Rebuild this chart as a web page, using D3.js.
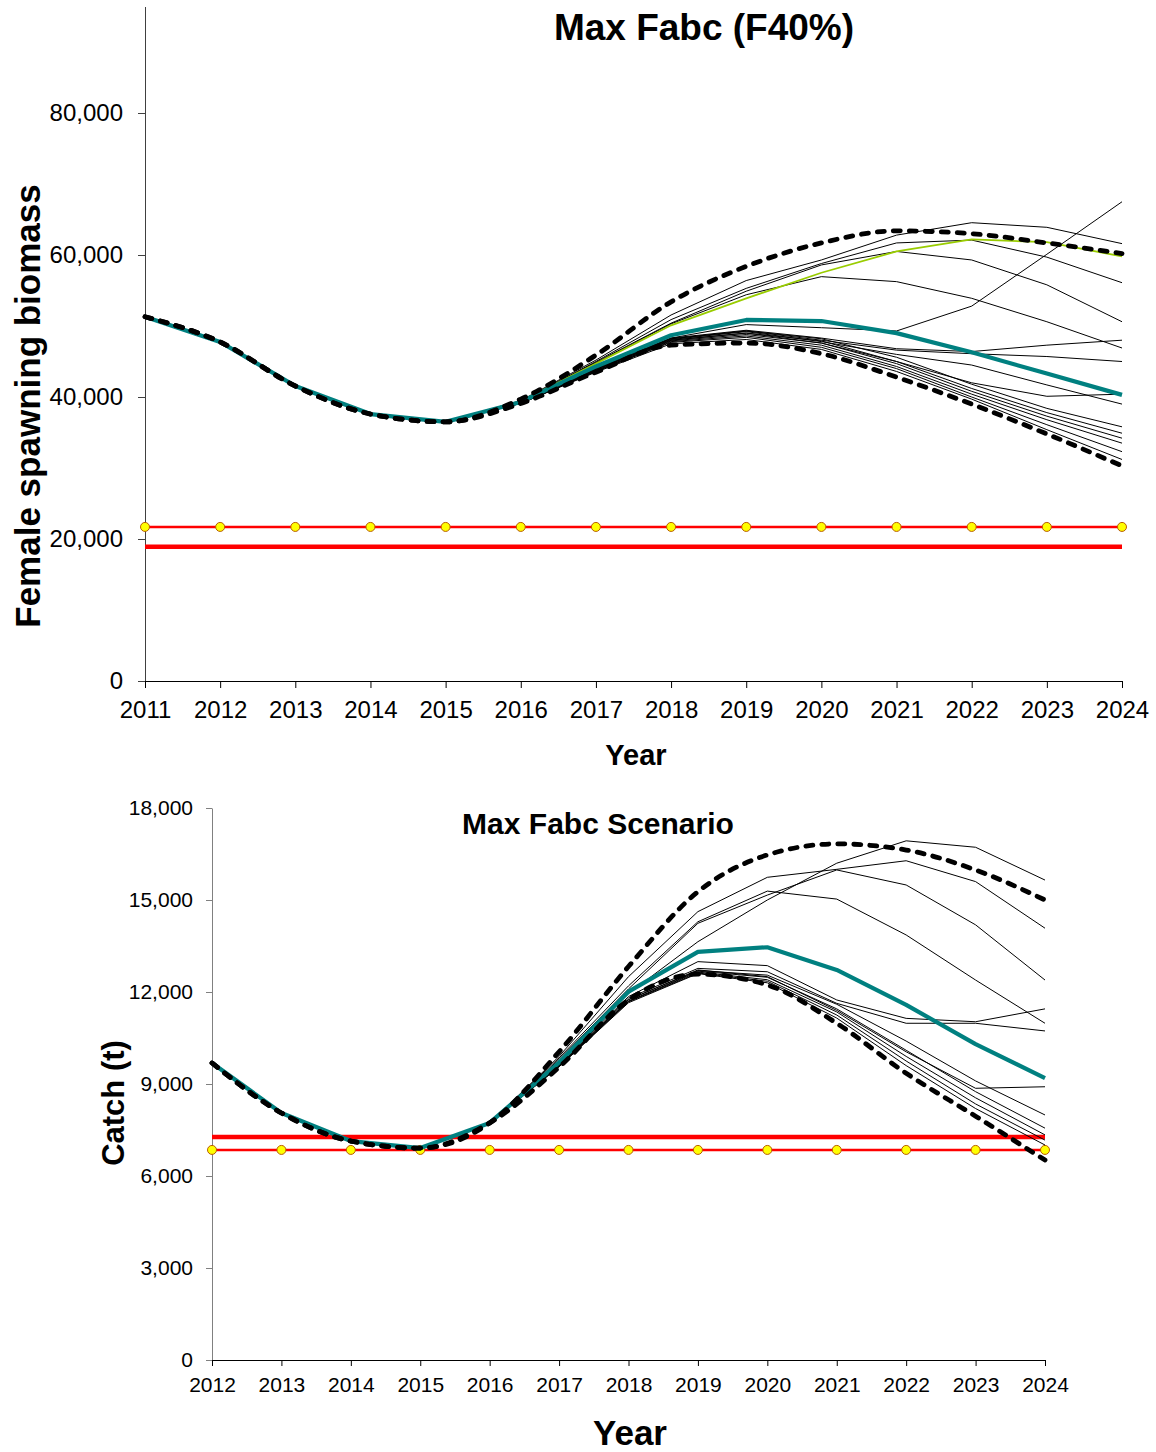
<!DOCTYPE html>
<html>
<head>
<meta charset="utf-8">
<script src="https://cdn.jsdelivr.net/npm/d3@7"></script>
<style>
  body { margin: 0; background: #fff; }
  svg { display: block; font-family: "Liberation Sans", Arial, sans-serif; }
  .axis text { fill: #000; }
</style>
</head>
<body>
<svg id="chart" width="1156" height="1452"></svg>
<script>
// ---- spawning biomass panel (2011-2024) ----
const ssbYears = [2011, 2012, 2013, 2014, 2015, 2016, 2017, 2018, 2019, 2020, 2021, 2022, 2023, 2024];
const ssbHistory = [51300, 47750, 41550, 37600, 36500];           // 2011-2015, all runs identical
// projections 2016-2024
const ssbUpper = [39700, 45900, 53400, 58400, 61700, 63400, 63000, 61700, 60200];
const ssbLower = [39100, 43500, 47300, 47600, 46100, 42800, 39000, 34800, 30300];
const ssbMean = [39300, 44300, 48700, 50850, 50700, 49000, 46300, 43300, 40300];
const ssbHighlight = [39400, 44700, 50100, 53900, 57500, 60500, 62200, 61800, 59800];
const ssbRuns = [
  [39500, 45200, 51550, 56400, 59300, 62800, 64550, 63900, 61600],
  [39400, 45000, 50900, 55300, 58800, 61700, 62100, 59700, 56100],
  [39400, 44900, 50400, 54900, 58600, 60500, 59300, 55800, 50600],
  [39400, 44800, 50300, 54400, 56950, 56250, 53900, 50600, 46900],
  [39200, 44100, 48300, 50200, 49760, 49300, 52800, 60100, 67500],
  [39200, 44000, 48300, 49400, 48300, 46800, 46400, 47300, 48000],
  [39200, 44000, 48200, 49300, 48000, 46600, 46100, 45700, 45000],
  [39200, 43900, 48100, 49200, 47800, 46000, 44500, 41700, 39000],
  [39200, 43900, 48000, 49000, 47600, 45000, 42000, 40100, 40400],
  [39200, 43800, 48200, 49300, 48200, 45600, 41800, 38400, 35800],
  [39200, 43700, 48000, 49000, 47900, 45000, 41200, 37800, 34900],
  [39200, 43700, 47900, 48800, 47600, 44700, 40800, 37300, 34200],
  [39100, 43600, 47800, 48600, 47300, 44300, 40400, 36800, 33500],
  [39100, 43600, 47700, 48400, 47000, 44000, 40000, 36100, 32300],
  [39100, 43500, 47500, 48100, 46700, 43600, 39700, 35400, 31200]
];
const ssbRefMarked = 21700;   // B40%
const ssbRefThick = 18900;    // B35%
const ssbTicks = [0, 20000, 40000, 60000, 80000];

// ---- catch panel (2012-2024) ----
const catchYears = [2012, 2013, 2014, 2015, 2016, 2017, 2018, 2019, 2020, 2021, 2022, 2023, 2024];
const catchHistory = [9685, 8055, 7140, 6910, 7730];              // 2012-2016
// projections 2017-2024
const catchUpper = [10050, 12830, 15270, 16470, 16830, 16630, 15980, 15000];
const catchLower = [9550, 11740, 12580, 12230, 10980, 9350, 7950, 6520];
const catchMean = [9700, 12010, 13310, 13460, 12720, 11580, 10300, 9190];
const catchRuns = [
  [9750, 11950, 13640, 15000, 16200, 16930, 16720, 15650],
  [9900, 12500, 14620, 15740, 16000, 16280, 15600, 14080],
  [9850, 12200, 14290, 15290, 15030, 13860, 12390, 10980],
  [9800, 12100, 14240, 15160, 15980, 15490, 14190, 12390],
  [9650, 11850, 12990, 12860, 11740, 11140, 11030, 11450],
  [9620, 11800, 12770, 12660, 11630, 10980, 10980, 10730],
  [9600, 11750, 12720, 12500, 11400, 10050, 8860, 8910],
  [9600, 11750, 12700, 12550, 11600, 10400, 9100, 7990],
  [9580, 11700, 12680, 12480, 11450, 10100, 8750, 7560],
  [9580, 11700, 12650, 12400, 11350, 9900, 8550, 7340],
  [9570, 11680, 12620, 12350, 11250, 9750, 8350, 7170],
  [9560, 11650, 12600, 12300, 11150, 9600, 8200, 7010]
];
const catchRefThick = 7270;
const catchRefMarked = 6850;
const catchTicks = [0, 3000, 6000, 9000, 12000, 15000, 18000];

const svg = d3.select("#chart");
const fmt = d3.format(",");

function drawPanel(cfg) {
  const { years, history, runs, upper, lower, mean, highlight, refMarked, refThick,
          x, y, ticks, tick, axis, title, yLabel, xLabel } = cfg;
  const g = svg.append("g");
  const full = (proj) => history.concat(proj).map((v, i) => ({ year: years[i], v }));

  // axes
  const yAxis = g.append("g")
    .attr("class", "axis")
    .attr("transform", `translate(${x.range()[0]},0)`)
    .call(d3.axisLeft(y).tickValues(ticks).tickFormat(fmt).tickSize(tick.size).tickPadding(tick.pad).tickSizeOuter(0));
  yAxis.selectAll("text").style("font-size", tick.font + "px");
  yAxis.selectAll("path,line").attr("stroke", axis.yColor);

  const xAxis = g.append("g")
    .attr("class", "axis")
    .attr("transform", `translate(0,${y.range()[0]})`)
    .call(d3.axisBottom(x).tickValues(years).tickFormat(d3.format("d")).tickSize(tick.size).tickPadding(tick.pad - 2).tickSizeOuter(0));
  xAxis.selectAll("text").style("font-size", tick.font + "px");
  xAxis.selectAll("path,line").attr("stroke", axis.xColor);

  // reference lines
  const [x0, x1] = x.range();
  g.append("line").attr("x1", x0).attr("x2", x1).attr("y1", y(refThick)).attr("y2", y(refThick))
    .attr("stroke", "#ff0000").attr("stroke-width", 4.5);
  g.append("line").attr("x1", x0).attr("x2", x1).attr("y1", y(refMarked)).attr("y2", y(refMarked))
    .attr("stroke", "#ff0000").attr("stroke-width", 2.5);
  g.selectAll(".mk").data(years).join("circle")
    .attr("cx", d => x(d)).attr("cy", y(refMarked)).attr("r", 4.5)
    .attr("fill", "#ffff00").attr("stroke", "#b85c00").attr("stroke-width", 1);

  const line = d3.line().x(d => x(d.year)).y(d => y(d.v));
  const smooth = d3.line().x(d => x(d.year)).y(d => y(d.v)).curve(d3.curveMonotoneX);

  g.selectAll(".run").data(runs).join("path")
    .attr("d", d => line(full(d)))
    .attr("fill", "none").attr("stroke", "#000").attr("stroke-width", 1);

  if (highlight)
    g.append("path").attr("d", line(full(highlight)))
      .attr("fill", "none").attr("stroke", "#99cc00").attr("stroke-width", 1.8);

  g.append("path").attr("d", line(full(mean)))
    .attr("fill", "none").attr("stroke", "#008080").attr("stroke-width", 4.2)
    .attr("stroke-linejoin", "round");

  [upper, lower].forEach(s => {
    g.append("path").attr("d", smooth(full(s)))
      .attr("fill", "none").attr("stroke", "#000").attr("stroke-width", 4.8)
      .attr("stroke-dasharray", "7,9").attr("stroke-linecap", "round");
  });

  // texts
  g.append("text").attr("x", title.x).attr("y", title.y).attr("text-anchor", "middle")
    .style("font-size", title.size + "px").style("font-weight", "bold").text(title.text);
  g.append("text").attr("transform", `translate(${yLabel.x},${yLabel.y}) rotate(-90)`)
    .attr("text-anchor", "middle")
    .style("font-size", yLabel.size + "px").style("font-weight", "bold").text(yLabel.text);
  g.append("text").attr("x", xLabel.x).attr("y", xLabel.y).attr("text-anchor", "middle")
    .style("font-size", xLabel.size + "px").style("font-weight", "bold").text(xLabel.text);
}

drawPanel({
  years: ssbYears, history: ssbHistory, runs: ssbRuns,
  upper: ssbUpper, lower: ssbLower, mean: ssbMean, highlight: ssbHighlight,
  refMarked: ssbRefMarked, refThick: ssbRefThick,
  x: d3.scaleLinear().domain([2011, 2024]).range([145, 1122]),
  y: d3.scaleLinear().domain([0, 95000]).range([681, 681 - 95000 / 20000 * 142]),
  ticks: ssbTicks,
  tick: { size: 7, pad: 15, font: 24 },
  axis: { yColor: "#404040", xColor: "#000" },
  title: { text: "Max Fabc (F40%)", x: 704, y: 40, size: 37 },
  yLabel: { text: "Female spawning biomass", x: 40, y: 406, size: 35 },
  xLabel: { text: "Year", x: 636, y: 765, size: 29 }
});

drawPanel({
  years: catchYears, history: catchHistory, runs: catchRuns,
  upper: catchUpper, lower: catchLower, mean: catchMean, highlight: null,
  refMarked: catchRefMarked, refThick: catchRefThick,
  x: d3.scaleLinear().domain([2012, 2024]).range([212, 1045]),
  y: d3.scaleLinear().domain([0, 18000]).range([1360, 808]),
  ticks: catchTicks,
  tick: { size: 6, pad: 13, font: 21 },
  axis: { yColor: "#808080", xColor: "#000" },
  title: { text: "Max Fabc Scenario", x: 598, y: 834, size: 30 },
  yLabel: { text: "Catch (t)", x: 124, y: 1103, size: 31 },
  xLabel: { text: "Year", x: 630, y: 1445, size: 35 }
});
</script>
</body>
</html>
